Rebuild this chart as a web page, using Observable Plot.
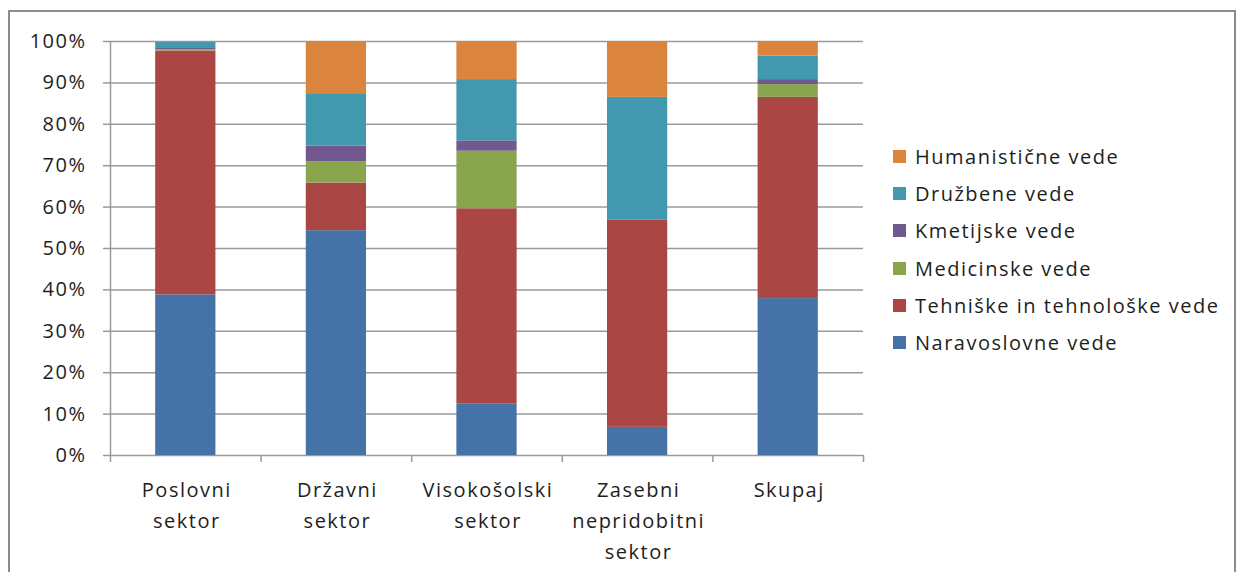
<!DOCTYPE html>
<html>
<head>
<meta charset="utf-8">
<script src="https://cdn.jsdelivr.net/npm/d3@7"></script>
<script src="https://cdn.jsdelivr.net/npm/@observablehq/plot@0.6"></script>
<style>
  html, body { margin: 0; padding: 0; background: #fff; }
  #wrap { position: relative; width: 1247px; height: 572px; overflow: hidden; font-family: "Open Sans", sans-serif; }
  #border { position: absolute; left: 8px; top: 10px; width: 1228px; height: 620px; border: 2px solid #8c8c8c; box-sizing: border-box; }
  #chart { position: absolute; left: 0; top: 0; }
  #legend { position: absolute; left: 893px; top: 0; }
  .row { position: absolute; left: 0; display: flex; align-items: center; white-space: nowrap; font-size: 20px; letter-spacing: 1.5px; color: #1e1e1e; height: 30px; }
  .sw { width: 13px; height: 13px; margin-right: 9px; flex: none; }
  #chart svg text { letter-spacing: 1.5px; }
</style>
</head>
<body>
<div id="wrap">
  <div id="border"></div>
  <div id="chart"></div>
  <div id="legend"></div>
</div>
<script>
const categories = ["Poslovni\nsektor", "Državni\nsektor", "Visokošolski\nsektor", "Zasebni\nnepridobitni\nsektor", "Skupaj"];
// series listed bottom-to-top in the stack
const seriesNames = ["Naravoslovne vede", "Tehniške in tehnološke vede", "Medicinske vede", "Kmetijske vede", "Družbene vede", "Humanistične vede"];
const seriesColors = ["#4572A7", "#AA4643", "#89A54E", "#71588F", "#4198AF", "#DB843D"];
const naravoslovne = [38.8, 54.3, 12.5, 6.8, 37.9];
const tehniske     = [58.9, 11.5, 47.1, 50.0, 48.6];
const medicinske   = [0.3, 5.1, 13.9, 0.0, 3.1];
const kmetijske    = [0.3, 3.8, 2.5, 0.0, 1.2];
const druzbene     = [1.5, 12.5, 14.8, 29.7, 5.7];
const humanisticne = [0.2, 12.8, 9.2, 13.5, 3.5];
const yTicks = [0, 10, 20, 30, 40, 50, 60, 70, 80, 90, 100];
const legendOrder = ["Humanistične vede", "Družbene vede", "Kmetijske vede", "Medicinske vede", "Tehniške in tehnološke vede", "Naravoslovne vede"];

const seriesValues = [naravoslovne, tehniske, medicinske, kmetijske, druzbene, humanisticne];
const data = [];
categories.forEach((c, i) => {
  seriesNames.forEach((s, k) => {
    data.push({i, category: c, series: s, value: seriesValues[k][i]});
  });
});
const idx = categories.map((_, i) => i);
const bounds = [-0.5, ...idx.map(i => i + 0.5)];
const half = 0.2;

const plot = Plot.plot({
  width: 1247,
  height: 572,
  marginLeft: 110,
  marginRight: 384,
  marginTop: 41,
  marginBottom: 117,
  style: {fontFamily: "'Open Sans', sans-serif", fontSize: "20px", color: "#1e1e1e", background: "transparent"},
  x: {type: "linear", domain: [-0.5, categories.length - 0.5]},
  y: {domain: [0, 100]},
  color: {domain: seriesNames, range: seriesColors},
  marks: [
    Plot.ruleY(yTicks, {stroke: "#9a9a9a", strokeWidth: 1.5}),
    Plot.rectY(data, Plot.stackY({
      x1: d => d.i - half,
      x2: d => d.i + half,
      y: "value",
      fill: "series",
      z: "series",
      order: seriesNames
    })),
    Plot.ruleX([-0.5], {stroke: "#9a9a9a", strokeWidth: 1.5}),
    Plot.axisY(yTicks, {
      tickSize: 7, tickPadding: 17, stroke: "#9a9a9a", strokeWidth: 1.5,
      tickFormat: d => d + "%", fill: "#1e1e1e", label: null
    }),
    Plot.axisX(bounds, {
      tickSize: 7, stroke: "#9a9a9a", strokeWidth: 1.5, tickFormat: () => "", label: null
    }),
    Plot.axisX(idx, {
      tickSize: 0, tickPadding: 19, tickFormat: i => categories[i], lineHeight: 1.55,
      fill: "#1e1e1e", label: null, dx: 1
    })
  ]
});
document.getElementById("chart").appendChild(plot);

const legend = document.getElementById("legend");
const rowCenters = [156, 193, 230, 268, 305, 342];
legendOrder.forEach((name, k) => {
  const row = document.createElement("div");
  row.className = "row";
  row.style.top = (rowCenters[k] - 15) + "px";
  const sw = document.createElement("div");
  sw.className = "sw";
  sw.style.background = seriesColors[seriesNames.indexOf(name)];
  const t = document.createElement("span");
  t.textContent = name;
  row.appendChild(sw);
  row.appendChild(t);
  legend.appendChild(row);
});
</script>
</body>
</html>
